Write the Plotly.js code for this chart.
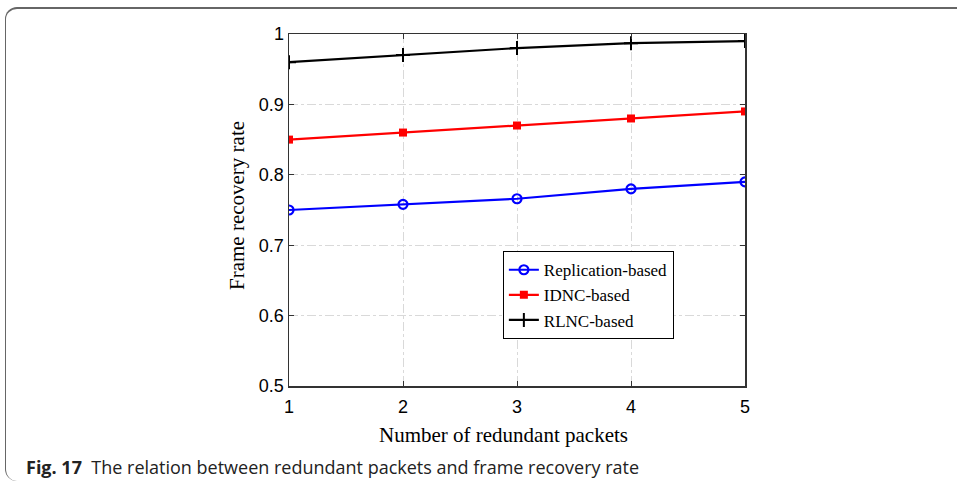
<!DOCTYPE html>
<html>
<head>
<meta charset="utf-8">
<script src="https://cdn.plot.ly/plotly-3.0.1.min.js"></script>
<style>
  html, body { margin: 0; padding: 0; background: #fff; }
  #wrap { position: relative; width: 957px; height: 488px; }
  #frame { position: absolute; left: 5px; top: 7px; width: 970px; height: 474px;
           border-top: 2px solid #666; border-left: 1.5px solid #666; border-radius: 12px 0 0 12px;
           border-bottom: 0; box-sizing: border-box; }
  #chart { position: absolute; left: 0; top: 0; width: 957px; height: 488px; }
</style>
</head>
<body>
<div id="wrap">
  <div id="frame"></div>
  <div id="chart"></div>
</div>
<script>
const packets = [1, 2, 3, 4, 5];
const replication = [0.750, 0.758, 0.766, 0.780, 0.790];
const idnc = [0.850, 0.860, 0.870, 0.880, 0.890];
const rlnc = [0.960, 0.970, 0.980, 0.987, 0.990];
const xTicks = [1, 2, 3, 4, 5];
const yTicks = [0.5, 0.6, 0.7, 0.8, 0.9, 1];
const yTickText = ['0.5', '0.6', '0.7', '0.8', '0.9', '1'];

const serif = 'Liberation Serif, Times New Roman, serif';
const sans = 'Liberation Sans, Arial, sans-serif';

const traces = [
  { x: packets, y: replication, name: 'Replication-based', mode: 'lines+markers',
    line: { color: '#0000ff', width: 2.2 },
    marker: { symbol: 'circle-open', size: 9, color: '#0000ff', line: { width: 2.2, color: '#0000ff' } } },
  { x: packets, y: idnc, name: 'IDNC-based', mode: 'lines+markers',
    line: { color: '#ff0000', width: 2.2 },
    marker: { symbol: 'square', size: 8, color: '#ff0000' } },
  { x: packets, y: rlnc, name: 'RLNC-based', mode: 'lines+markers',
    line: { color: '#000000', width: 2.2 },
    marker: { symbol: 'cross-thin', size: 10, color: '#000000', line: { width: 2, color: '#000000' } } }
];

const layout = {
  width: 957, height: 488,
  margin: { l: 289, r: 212, t: 34, b: 102 },
  paper_bgcolor: 'rgba(0,0,0,0)',
  plot_bgcolor: '#ffffff',
  showlegend: true,
  legend: {
    x: 0.469, y: 0.383, xanchor: 'left', yanchor: 'top',
    bgcolor: '#ffffff', bordercolor: '#000', borderwidth: 1,
    font: { family: serif, size: 17, color: '#000' },
    tracegroupgap: 0, itemwidth: 30
  },
  xaxis: {
    range: [1, 5], tickvals: xTicks, ticktext: xTicks.map(String),
    showgrid: true, gridcolor: '#d9d9d9', griddash: 'dashdot', gridwidth: 1,
    zeroline: false, showline: true, linecolor: '#333', linewidth: 1.5, mirror: 'ticks',
    ticks: 'inside', ticklen: 5, tickcolor: '#333', ticklabelstandoff: 4,
    tickfont: { family: sans, size: 18, color: '#000' }
  },
  yaxis: {
    range: [0.5, 1], tickvals: yTicks, ticktext: yTickText,
    showgrid: true, gridcolor: '#d9d9d9', griddash: 'dashdot', gridwidth: 1,
    zeroline: false, showline: true, linecolor: '#333', linewidth: 1.5, mirror: 'ticks',
    ticks: 'inside', ticklen: 5, tickcolor: '#333',
    tickfont: { family: sans, size: 18, color: '#000' }
  },
  annotations: [
    { xref: 'paper', yref: 'paper', x: (503 - 289) / 456, y: -(435 - 386) / 352,
      xanchor: 'center', yanchor: 'middle', showarrow: false,
      text: 'Number of redundant packets', font: { family: serif, size: 21, color: '#000' } },
    { xref: 'paper', yref: 'paper', x: -(289 - 237) / 456, y: (386 - 206) / 352,
      xanchor: 'center', yanchor: 'middle', showarrow: false, textangle: -90,
      text: 'Frame recovery rate', font: { family: serif, size: 21, color: '#000' } },
    { xref: 'paper', yref: 'paper', x: -(289 - 24) / 456, y: -(467 - 386) / 352,
      xanchor: 'left', yanchor: 'middle', showarrow: false, align: 'left',
      text: '<b>Fig. 17</b>  The relation between redundant packets and frame recovery rate',
      font: { family: 'Open Sans, Noto Sans, sans-serif', size: 18, color: '#222' } }
  ]
};

Plotly.newPlot('chart', traces, layout, { displayModeBar: false, staticPlot: true });
</script>
</body>
</html>
